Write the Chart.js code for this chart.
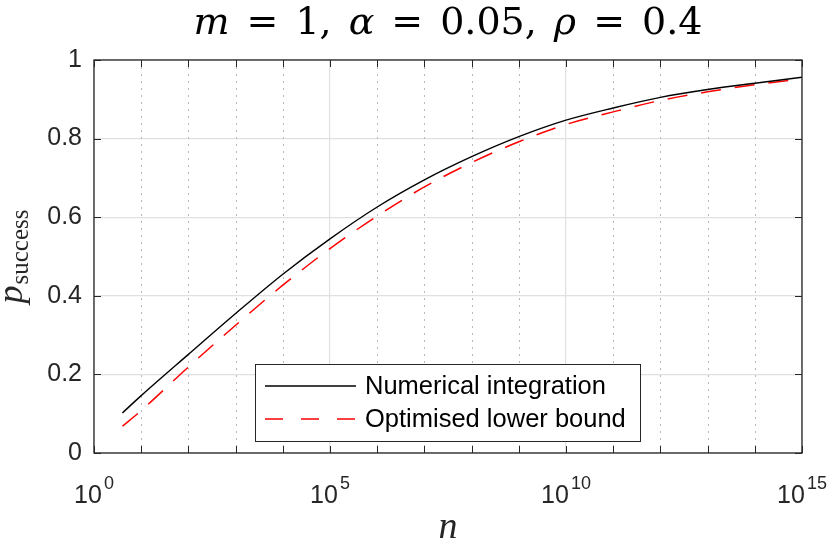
<!DOCTYPE html>
<html>
<head>
<meta charset="utf-8">
<script src="https://cdn.jsdelivr.net/npm/chart.js@4.4.0/dist/chart.umd.min.js"></script>
<style>
  html, body { margin: 0; padding: 0; background: #fff; }
</style>
</head>
<body>
<canvas id="myChart" width="830" height="548"></canvas>
<script>
// values
var nValues = [4, 1e1, 1e2, 1e3, 1e4, 1e5, 1e6, 1e7, 1e8, 1e9, 1e10, 1e11, 1e12, 1e13, 1e14, 1e15];
var numericalValues = [0.102, 0.146, 0.251, 0.355, 0.455, 0.545, 0.626, 0.695, 0.754, 0.805, 0.847, 0.878, 0.905, 0.925, 0.941, 0.956];
var lowerBoundValues = [0.068, 0.108, 0.219, 0.325, 0.427, 0.520, 0.603, 0.677, 0.739, 0.792, 0.836, 0.868, 0.897, 0.919, 0.937, 0.952];
var seriesLabels = ['Numerical integration', 'Optimised lower bound'];
var yTickValues = [0, 0.2, 0.4, 0.6, 0.8, 1];
var xDecades = [0, 1, 2, 3, 4, 5, 6, 7, 8, 9, 10, 11, 12, 13, 14, 15];
var xLabelExponents = [0, 5, 10, 15];

var FONT_SANS = '"Liberation Sans", Arial, Helvetica, sans-serif';
var FONT_SERIF = '"Liberation Serif", "Times New Roman", serif';
var FONT_TITLE = '"DejaVu Serif", "Liberation Serif", serif';
var AXIS_COLOR = '#262626';

function toPoints(ys) {
  return nValues.map(function(n, i) { return { x: n, y: ys[i] }; });
}

// grid, box, inward ticks, labels and legend in the matlab look
var figureDecor = {
  id: 'figureDecor',
  beforeDatasetsDraw: function(chart) {
    var c = chart.ctx, a = chart.chartArea, xs = chart.scales.x;
    c.save();
    c.strokeStyle = '#b8b8b8';
    c.lineWidth = 1;
    c.setLineDash([2, 5]);
    xDecades.forEach(function(e) {
      if (xLabelExponents.indexOf(e) >= 0) return;
      var px = Math.round(xs.getPixelForValue(Math.pow(10, e))) + 0.5;
      c.beginPath();
      c.moveTo(px, a.top);
      c.lineTo(px, a.bottom);
      c.stroke();
    });
    c.restore();
  },
  afterDraw: function(chart) {
    var c = chart.ctx, a = chart.chartArea, xs = chart.scales.x, ys = chart.scales.y;
    var cx = (a.left + a.right) / 2;
    c.save();

    // axes box + inward ticks
    c.strokeStyle = AXIS_COLOR;
    c.lineWidth = 1.3;
    c.strokeRect(a.left, a.top, a.right - a.left, a.bottom - a.top);
    c.lineWidth = 1;
    c.beginPath();
    xDecades.forEach(function(e) {
      var px = Math.round(xs.getPixelForValue(Math.pow(10, e))) + 0.5;
      c.moveTo(px, a.bottom); c.lineTo(px, a.bottom - 7);
      c.moveTo(px, a.top); c.lineTo(px, a.top + 7);
    });
    yTickValues.forEach(function(v) {
      var py = Math.round(ys.getPixelForValue(v)) + 0.5;
      c.moveTo(a.left, py); c.lineTo(a.left + 7, py);
      c.moveTo(a.right, py); c.lineTo(a.right - 7, py);
    });
    c.stroke();

    // x tick labels 10^k
    c.fillStyle = AXIS_COLOR;
    c.textAlign = 'left';
    c.textBaseline = 'alphabetic';
    xLabelExponents.forEach(function(e) {
      var px = xs.getPixelForValue(Math.pow(10, e));
      c.font = '25px ' + FONT_SANS;
      var wb = c.measureText('10').width;
      c.font = '18px ' + FONT_SANS;
      var we = c.measureText(String(e)).width;
      var x0 = px - (wb + 2 + we) / 2;
      c.font = '25px ' + FONT_SANS;
      c.fillText('10', x0, 503);
      c.font = '18px ' + FONT_SANS;
      c.fillText(String(e), x0 + wb + 2, 489);
    });

    // title, tex-like spacing around "=" and after commas
    var gap = 17;
    var parts = [['m', true], ['=', false], ['1,', false], ['\u03b1', true], ['=', false],
                 ['0.05,', false], ['\u03c1', true], ['=', false], ['0.4', false]];
    var tw = 0;
    parts.forEach(function(p) {
      c.font = (p[1] ? 'italic ' : '') + '38px ' + FONT_TITLE;
      p.push(c.measureText(p[0]).width);
      tw += p[2];
    });
    tw += gap * (parts.length - 1);
    var tx = cx - tw / 2;
    c.fillStyle = '#000';
    parts.forEach(function(p) {
      c.font = (p[1] ? 'italic ' : '') + '38px ' + FONT_TITLE;
      c.fillText(p[0], tx, 34);
      tx += p[2] + gap;
    });

    // x axis title
    c.textAlign = 'center';
    c.font = 'italic 38px ' + FONT_SERIF;
    c.fillStyle = AXIS_COLOR;
    c.fillText('n', cx, 538);

    // y axis title p_success
    c.save();
    c.translate(22, (a.top + a.bottom) / 2);
    c.rotate(-Math.PI / 2);
    c.textAlign = 'left';
    c.font = 'italic 36px ' + FONT_SERIF;
    var wp = c.measureText('p').width;
    c.font = '25px ' + FONT_SERIF;
    var wsub = c.measureText('success').width;
    var y0 = -(wp + 1 + wsub) / 2;
    c.font = 'italic 36px ' + FONT_SERIF;
    c.fillText('p', y0, 0);
    c.font = '25px ' + FONT_SERIF;
    c.fillText('success', y0 + wp + 1, 6);
    c.restore();

    // legend
    var lx = 255, ly = 364, lw = 385, lh = 77;
    c.fillStyle = '#fff';
    c.fillRect(lx, ly, lw, lh);
    c.strokeStyle = AXIS_COLOR;
    c.lineWidth = 1;
    c.strokeRect(lx + 0.5, ly + 0.5, lw, lh);
    var rows = [386, 419];
    chart.data.datasets.forEach(function(ds, i) {
      c.strokeStyle = ds.borderColor;
      c.lineWidth = ds.borderWidth;
      c.setLineDash(i === 0 ? [] : [18, 18]);
      c.beginPath();
      c.moveTo(265, rows[i]);
      c.lineTo(356, rows[i]);
      c.stroke();
      c.setLineDash([]);
      c.fillStyle = '#000';
      c.font = '25.5px ' + FONT_SANS;
      c.textAlign = 'left';
      c.textBaseline = 'middle';
      c.fillText(ds.label, 365, rows[i] + 1);
    });

    c.restore();
  }
};

var ctx = document.getElementById('myChart').getContext('2d');
var myChart = new Chart(ctx, {
  type: 'line',
  data: {
    datasets: [{
      label: seriesLabels[0],
      data: toPoints(numericalValues),
      borderColor: '#000000',
      borderWidth: 1.4,
      pointRadius: 0,
      fill: false,
      cubicInterpolationMode: 'monotone'
    }, {
      label: seriesLabels[1],
      data: toPoints(lowerBoundValues),
      borderColor: '#ff0000',
      borderWidth: 1.5,
      borderDash: [20, 14],
      pointRadius: 0,
      fill: false,
      cubicInterpolationMode: 'monotone'
    }]
  },
  options: {
    responsive: false,
    animation: false,
    layout: { padding: { top: 60, right: 28, left: 0, bottom: 0 } },
    scales: {
      x: {
        type: 'logarithmic',
        min: 1,
        max: 1e15,
        afterBuildTicks: function(scale) {
          scale.ticks = xDecades.map(function(e) { return { value: Math.pow(10, e) }; });
        },
        afterFit: function(scale) { scale.height = 95; },
        ticks: { display: false },
        grid: {
          drawTicks: false,
          lineWidth: 1.2,
          color: function(context) {
            var e = Math.round(Math.log10(context.tick.value));
            return xLabelExponents.indexOf(e) >= 0 ? '#e0e0e0' : 'rgba(0,0,0,0)';
          }
        },
        border: { display: false }
      },
      y: {
        type: 'linear',
        min: 0,
        max: 1,
        afterBuildTicks: function(scale) {
          scale.ticks = yTickValues.map(function(v) { return { value: v }; });
        },
        afterFit: function(scale) { scale.width = 94; },
        ticks: {
          color: AXIS_COLOR,
          padding: 12,
          font: { family: FONT_SANS, size: 25 },
          callback: function(v) { return String(v); }
        },
        grid: { drawTicks: false, lineWidth: 1.2, color: '#e0e0e0' },
        border: { display: false }
      }
    },
    plugins: {
      legend: { display: false },
      tooltip: { enabled: false },
      title: { display: false }
    }
  },
  plugins: [figureDecor]
});
</script>
</body>
</html>
